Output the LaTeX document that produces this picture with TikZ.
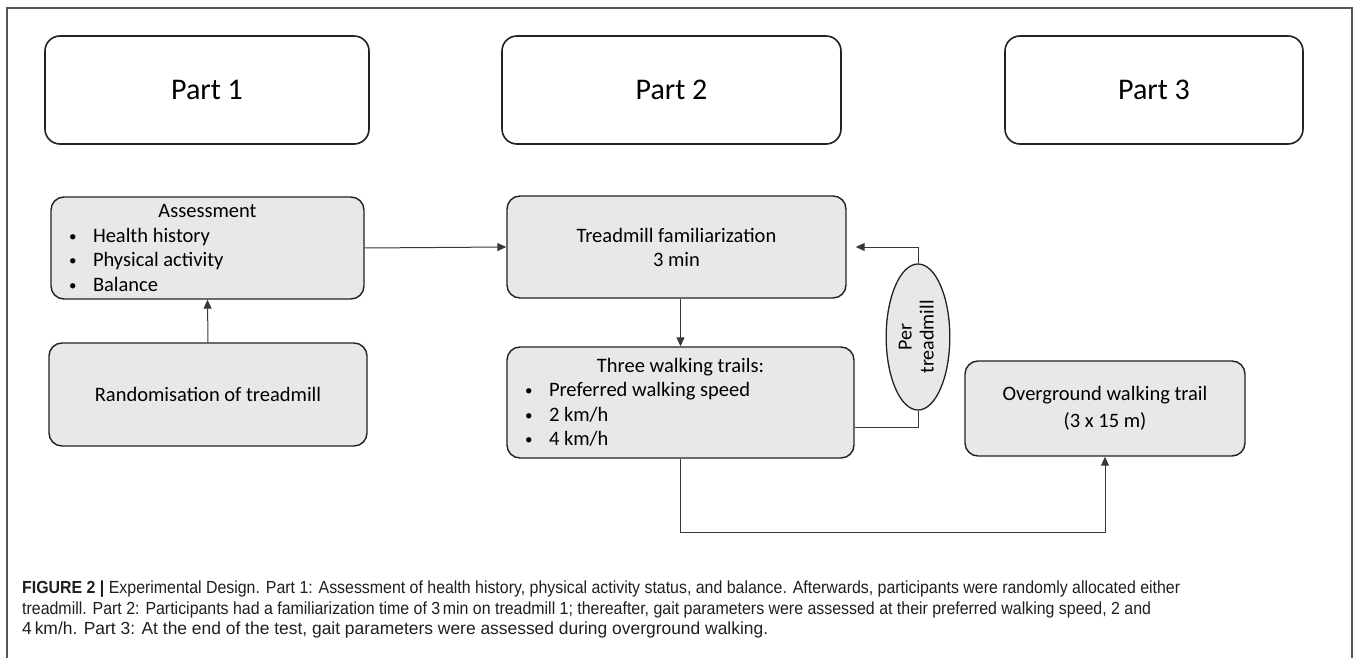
\documentclass[tikz,border=0pt]{standalone}
\usepackage{fontspec}
\usepackage{graphicx}
\setmainfont{Carlito}
\newfontfamily\capfont{Liberation Sans}
\usetikzlibrary{shapes.geometric,arrows.meta}
\definecolor{boxfill}{HTML}{E8E8E8}
\definecolor{edge}{HTML}{222222}
\definecolor{framecol}{HTML}{555555}
\newcommand{\bul}[1]{\hspace*{18pt}\makebox[24pt][l]{\raisebox{1pt}{\fontsize{15}{15}\selectfont •}}#1\par}
\newsavebox{\capbox}
\newcommand{\capsize}{\capfont\fontsize{17.5}{20}\selectfont}
\begin{document}
\sbox{\capbox}{\capsize 4\,km/h. Part 3: At the end of the test, gait parameters were assessed during overground walking.}%
\pgfmathsetmacro{\capsx}{746/\the\wd\capbox}%
\begin{tikzpicture}[x=1pt,y=-1pt,
  partbox/.style={draw=edge, line width=1.6pt, rounded corners=15pt, fill=white, inner sep=0pt, font=\fontsize{30}{34}\selectfont},
  graybox/.style={draw=edge, line width=1.4pt, rounded corners=13pt, fill=boxfill, inner sep=0pt, align=center, font=\fontsize{20.5}{24}\selectfont},
  arr/.style={draw=edge!90, line width=1pt, -{Triangle[length=9pt,width=8pt]}},
  conn/.style={draw=edge!90, line width=1pt},
  captext/.style={anchor=base west, inner sep=0pt, font=\capsize, text=black!88}
]
\useasboundingbox (0,0) rectangle (1358,658);
% outer frame
\draw[framecol, line width=1.5pt] (7,658) -- (7,8) -- (1352,8) -- (1352,658);

% part headers
\node[partbox, minimum width=324pt, minimum height=108pt] (p1) at (207,90) {\raisebox{-3pt}{Part 1}};
\node[partbox, minimum width=339pt, minimum height=108pt] (p2) at (671.5,90) {\raisebox{-3pt}{Part 2}};
\node[partbox, minimum width=298pt, minimum height=108pt] (p3) at (1154,90) {\raisebox{-3pt}{Part 3}};

% boxes
\node[graybox, minimum width=313pt, minimum height=102pt] (assess) at (207.5,248) {%
  \begin{minipage}{313pt}\fontsize{20.5}{24.5}\selectfont
  {\centering Assessment\par}
  \bul{Health history}
  \bul{Physical activity}
  \bul{Balance}
  \end{minipage}};
\node[graybox, minimum width=318pt, minimum height=103pt] (rand) at (208,394.5) {Randomisation of treadmill};
\node[graybox, minimum width=339pt, minimum height=102pt] (tread) at (676.5,247) {Treadmill familiarization\\3 min};
\node[graybox, minimum width=347pt, minimum height=111pt] (three) at (680.5,402.5) {%
  \begin{minipage}{347pt}\fontsize{20.5}{24.5}\selectfont
  {\centering Three walking trails:\par}
  \bul{Preferred walking speed}
  \bul{2 km/h}
  \bul{4 km/h}
  \end{minipage}};
\node[graybox, minimum width=280pt, minimum height=95pt, font=\fontsize{20.5}{27}\selectfont] (ov) at (1105,408.5) {Overground walking trail\\(3 x 15 m)};
\node[ellipse, draw=edge, line width=1.3pt, fill=boxfill, minimum width=63pt, minimum height=146pt, inner sep=0pt, font=\fontsize{20}{23}\selectfont] (per) at (918,337)
  {\rotatebox{90}{\begin{tabular}{@{}c@{}}Per\\[-1pt]treadmill\end{tabular}}};

% connectors
\coordinate (lowy) at (0,532);
\draw[arr] (rand.north) -- (assess.south);
\draw[arr] (assess.east) -- (tread.west);
\draw[arr] (three.north |- tread.south) -- (three.north);
\draw[conn] ([yshift=-25pt]three.east) -| (per.south);
\draw[arr, shorten >=9pt] (per.north) |- (tread.east);
\draw[arr] (three.south) -- (three.south |- lowy) -| (ov.south);

% caption
\node[captext] (c1) at (22,593) {\resizebox{1158pt}{\height}{\textbf{FIGURE 2 |} Experimental Design. Part 1: Assessment of health history, physical activity status, and balance. Afterwards, participants were randomly allocated either}};
\node[captext] (c2) at (22,614) {\resizebox{1129pt}{\height}{treadmill. Part 2: Participants had a familiarization time of 3\,min on treadmill 1; thereafter, gait parameters were assessed at their preferred walking speed, 2 and}};
\node[captext] (c3) at (22,634.5) {\scalebox{\capsx}[1]{4\,km/h. Part 3: At the end of the test, gait parameters were assessed during overground walking.}};
\end{tikzpicture}
\end{document}
